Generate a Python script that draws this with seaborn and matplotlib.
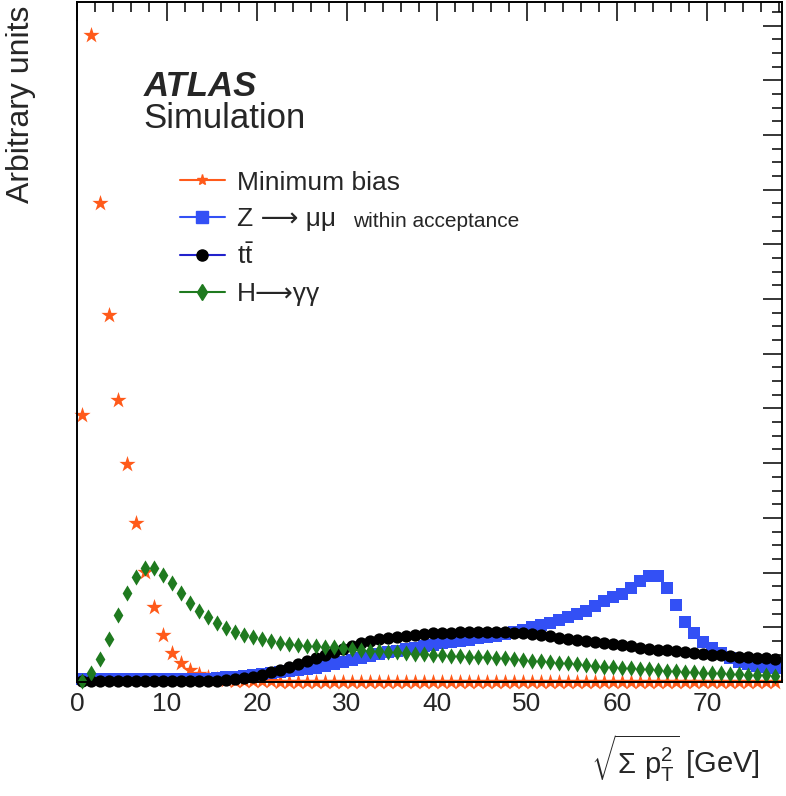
import numpy as np
import pandas as pd
import matplotlib
matplotlib.use('Agg')
import matplotlib.pyplot as plt
from matplotlib.lines import Line2D
from matplotlib.ticker import MultipleLocator
import seaborn as sns

# bins of 1 GeV, centres at 0.5, 1.5, ... 77.5
bin_centers = np.arange(78) + 0.5

# Minimum bias (arbitrary units)
minbias = [4.88, 11.83, 8.76, 6.71, 5.16, 3.99, 2.91, 2.01, 1.37, 0.86,
           0.53, 0.35, 0.22, 0.15, 0.09, 0.05, 0.04, 0.02, 0.01, 0.01,
           0.01, 0.01, 0.0, 0.0, 0.0, 0.0, 0.0, 0.0, 0.0, 0.0,
           0.0, 0.0, 0.0, 0.0, 0.0, 0.0, 0.0, 0.0, 0.0, 0.0,
           0.0, 0.0, 0.0, 0.0, 0.0, 0.0, 0.0, 0.0, 0.0, 0.0,
           0.0, 0.0, 0.0, 0.0, 0.0, 0.0, 0.0, 0.0, 0.0, 0.0,
           0.0, 0.0, 0.0, 0.0, 0.0, 0.0, 0.0, 0.0, 0.0, 0.0,
           0.0, 0.0, 0.0, 0.0, 0.0, 0.0, 0.0, 0.0]

# Z -> mumu within acceptance
zmumu = [0.05, 0.05, 0.05, 0.05, 0.05, 0.05, 0.05, 0.05, 0.05, 0.05,
         0.05, 0.05, 0.05, 0.05, 0.05, 0.07, 0.09, 0.09, 0.11, 0.13,
         0.15, 0.16, 0.18, 0.20, 0.22, 0.24, 0.26, 0.29, 0.33, 0.37,
         0.40, 0.44, 0.48, 0.51, 0.55, 0.57, 0.60, 0.62, 0.66, 0.68,
         0.71, 0.73, 0.75, 0.77, 0.80, 0.82, 0.84, 0.88, 0.91, 0.95,
         1.01, 1.04, 1.08, 1.13, 1.19, 1.24, 1.30, 1.39, 1.48, 1.55,
         1.61, 1.72, 1.85, 1.94, 1.94, 1.72, 1.41, 1.10, 0.90, 0.73,
         0.62, 0.53, 0.44, 0.37, 0.33, 0.29, 0.27, 0.26]

# ttbar
ttbar = [0.01, 0.01, 0.01, 0.01, 0.01, 0.01, 0.01, 0.01, 0.01, 0.01,
         0.01, 0.01, 0.01, 0.01, 0.01, 0.02, 0.04, 0.05, 0.07, 0.09,
         0.13, 0.18, 0.22, 0.27, 0.33, 0.38, 0.44, 0.49, 0.55, 0.60,
         0.66, 0.71, 0.75, 0.79, 0.80, 0.82, 0.84, 0.86, 0.88, 0.90,
         0.90, 0.90, 0.91, 0.91, 0.91, 0.91, 0.91, 0.91, 0.90, 0.90,
         0.88, 0.86, 0.84, 0.81, 0.79, 0.77, 0.75, 0.73, 0.71, 0.69,
         0.67, 0.65, 0.63, 0.61, 0.59, 0.58, 0.56, 0.54, 0.53, 0.51,
         0.50, 0.49, 0.48, 0.46, 0.45, 0.44, 0.43, 0.42]

# H -> gamma gamma
hgg = [0.02, 0.16, 0.42, 0.79, 1.22, 1.63, 1.92, 2.08, 2.08, 1.96,
       1.81, 1.63, 1.44, 1.30, 1.19, 1.08, 0.99, 0.91, 0.86, 0.82,
       0.79, 0.75, 0.71, 0.69, 0.68, 0.66, 0.66, 0.64, 0.64, 0.62,
       0.60, 0.59, 0.57, 0.57, 0.55, 0.54, 0.53, 0.52, 0.51, 0.50,
       0.49, 0.48, 0.47, 0.46, 0.45, 0.45, 0.44, 0.43, 0.42, 0.40,
       0.39, 0.38, 0.37, 0.35, 0.34, 0.33, 0.31, 0.30, 0.28, 0.27,
       0.26, 0.25, 0.24, 0.23, 0.22, 0.21, 0.20, 0.19, 0.18, 0.17,
       0.16, 0.16, 0.15, 0.14, 0.13, 0.12, 0.12, 0.11]

labels = ['Minimum bias', 'Z \u27f6 \u03bc\u03bc',
          r'$\mathrm{t\bar{t}}$', 'H\u27f6\u03b3\u03b3']
colors = ['#ff5a1a', '#3350f5', '#000000', '#1f7a1f']
line_colors = ['#ff5a1a', '#3350f5', '#2222cc', '#1f7a1f']
markers = ['*', 's', 'o', 'd']
sizes = [150, 72, 78, 68]

sns.set_style('white')
plt.rcParams['font.family'] = ['Liberation Sans', 'DejaVu Sans']
plt.rcParams['mathtext.fontset'] = 'custom'
plt.rcParams['mathtext.rm'] = 'Liberation Sans'
plt.rcParams['mathtext.it'] = 'Liberation Sans:italic'
plt.rcParams['mathtext.bf'] = 'Liberation Sans:bold'

fig = plt.figure(figsize=(7.86, 7.96), dpi=100)
ax = fig.add_axes([77 / 786, 1 - 682 / 796, 705 / 786, 680 / 796])

series = [minbias, zmumu, ttbar, hgg]
for vals, c, m, s in zip(series, colors, markers, sizes):
    df = pd.DataFrame({'x': bin_centers, 'y': vals})
    sns.scatterplot(data=df, x='x', y='y', marker=m, color=c, s=s,
                    edgecolor=c, linewidth=0, ax=ax, clip_on=False, legend=False)

ax.set_xlim(0, 78.33)
ax.set_ylim(0, 12.43)
ax.xaxis.set_major_locator(MultipleLocator(10))
ax.xaxis.set_minor_locator(MultipleLocator(2))
ax.yaxis.set_major_locator(MultipleLocator(1))
ax.yaxis.set_minor_locator(MultipleLocator(0.25))
ax.tick_params(which='both', direction='in', top=True, right=True,
               width=1.1, color='black')
ax.tick_params(which='major', length=14)
ax.tick_params(which='minor', length=7)
ax.tick_params(axis='x', labelsize=19, pad=7)
ax.tick_params(axis='y', labelleft=False)
for sp in ax.spines.values():
    sp.set_linewidth(1.4)
    sp.set_color('black')

ax.set_ylabel('Arbitrary units', fontsize=23, loc='top')
ax.yaxis.set_label_coords(-0.058, 0.995)
ax.set_xlabel(r'$\sqrt{\Sigma\ \mathrm{p}_{\mathrm{T}}^{2}}$ [GeV]', fontsize=21, loc='right')
ax.xaxis.set_label_coords(0.969, -0.075)

# ATLAS label
ax.text(0.094, 0.862, 'ATLAS', transform=ax.transAxes, fontsize=25,
        fontweight='bold', style='italic', va='baseline')
ax.text(0.094, 0.815, 'Simulation', transform=ax.transAxes, fontsize=25,
        va='baseline')

handles = []
for c, lc, m in zip(colors, line_colors, markers):
    handles.append(Line2D([], [], color=lc, lw=1.5, marker=m, markersize=8,
                          markerfacecolor=c, markeredgecolor=c))
ax.legend(handles, labels, loc='upper left', bbox_to_anchor=(0.146, 0.752),
          frameon=False, fontsize=19, handlelength=1.7, handletextpad=0.45,
          labelspacing=0.47, borderpad=0, borderaxespad=0, numpoints=1)
ax.text(0.3915, 0.669, 'within acceptance', transform=ax.transAxes,
        fontsize=15, va='baseline')

fig.savefig('out.png', dpi=100)
